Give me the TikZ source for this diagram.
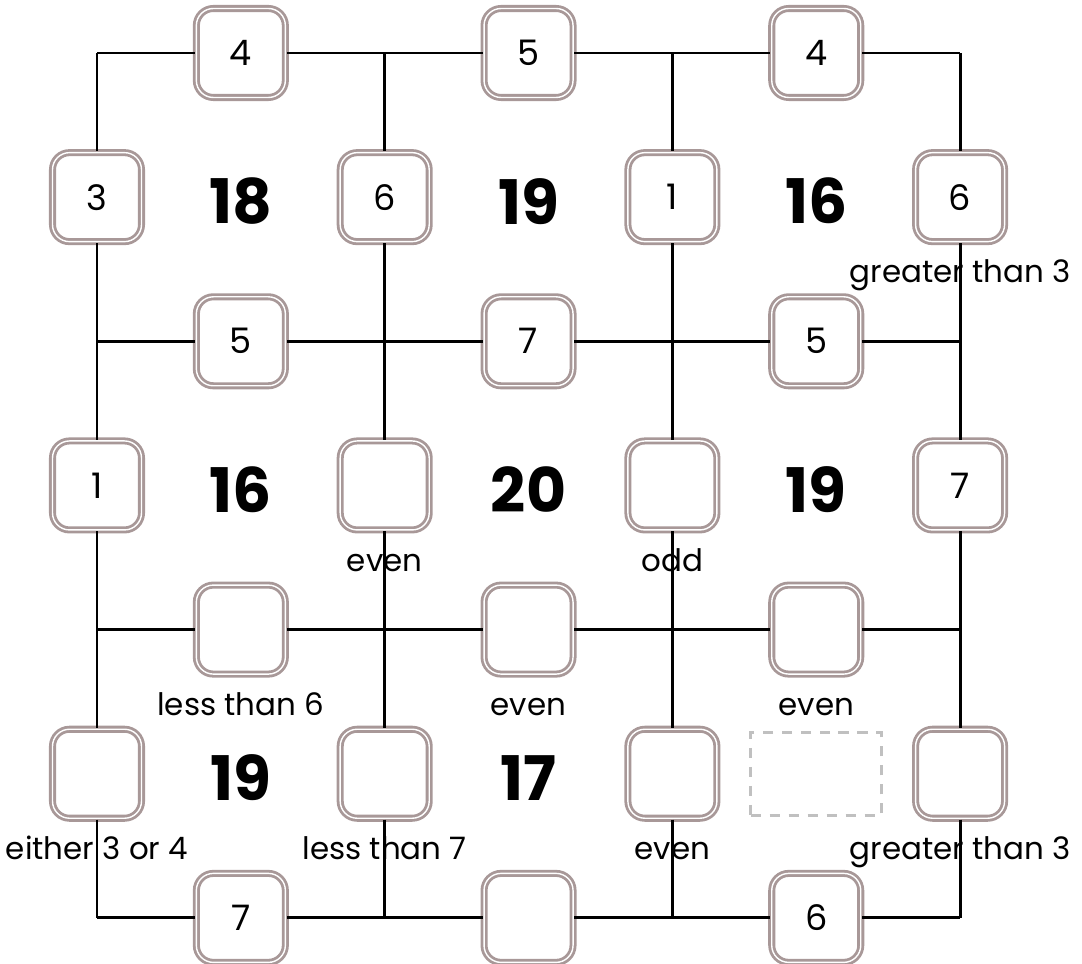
\documentclass[tikz,border=0pt]{standalone}
\usepackage{fontspec}
\setmainfont{Poppins}
\usetikzlibrary{positioning}
\definecolor{boxrim}{RGB}{168,152,152}
\definecolor{ghost}{RGB}{192,192,192}

\begin{document}
\begin{tikzpicture}
        \tikzstyle{gridline}=[line width=0.8pt, black]
        \tikzstyle{slot}=[draw=boxrim, fill=white, double=white, line width=0.8pt, double distance=0.4pt, rounded corners=0.17cm, minimum size=0.89cm, inner sep=0pt, font=\fontsize{10}{12}\selectfont]
        \tikzstyle{sum}=[font=\fontsize{17.5}{20}\selectfont\bfseries]
        \tikzstyle{hint}=[inner sep=0pt, text height=0.74em, text depth=0.26em, font=\fontsize{8.8}{10}\selectfont]
        \tikzstyle{blank}=[draw=ghost, line width=0.8pt, dash pattern=on 3pt off 2.4pt, minimum width=1.31cm, minimum height=0.83cm]

        \useasboundingbox (0,0) rectangle (10.82,9.64);

        % Grid corners
        \foreach \i in {0,...,3}
            \foreach \j in {0,...,3}
                \coordinate (c\i\j) at ({0.97+2.877*\i},{9.11-2.883*\j});

        % Horizontal edges
        \foreach \i/\j/\val in {0/0/4, 1/0/5, 2/0/4, 0/1/5, 1/1/7, 2/1/5, 0/2/{}, 1/2/{}, 2/2/{}, 0/3/7, 1/3/{}, 2/3/6}
            \node[slot] (h\i\j) at ({0.97+2.877*(\i+0.5)},{9.11-2.883*\j}) {\val};

        % Vertical edges
        \foreach \i/\j/\val in {0/0/3, 1/0/6, 2/0/1, 3/0/6, 0/1/1, 1/1/{}, 2/1/{}, 3/1/7, 0/2/{}, 1/2/{}, 2/2/{}, 3/2/{}}
            \node[slot] (v\i\j) at ({0.97+2.877*\i},{9.11-2.883*(\j+0.5)}) {\val};

        % Cell sums
        \foreach \i/\j/\val in {0/0/18, 1/0/19, 2/0/16, 0/1/16, 1/1/20, 2/1/19, 0/2/19, 1/2/17}
            \node[sum] (s\i\j) at ({0.97+2.877*(\i+0.5)},{9.11-2.883*(\j+0.5)-0.04}) {\val};
        \node[blank] (s22) at ({0.97+2.877*2.5},{9.11-2.883*2.5}) {};

        % Hints
        \node[hint, below=0.13cm of v30] (n30) {greater than 3};
        \node[hint, below=0.13cm of v11] (n11) {even};
        \node[hint, below=0.13cm of v21] (n21) {odd};
        \node[hint, below=0.13cm of h02] (m02) {less than 6};
        \node[hint, below=0.13cm of h12] (m12) {even};
        \node[hint, below=0.13cm of h22] (m22) {even};
        \node[hint, below=0.13cm of v02] (n02) {either 3 or 4};
        \node[hint, below=0.13cm of v12] (n12) {less than 7};
        \node[hint, below=0.13cm of v22] (n22) {even};
        \node[hint, below=0.13cm of v32] (n32) {greater than 3};

        % Grid lines
        \foreach \j in {0,...,3}
            \draw[gridline] (c0\j) -- (h0\j) -- (c1\j) -- (h1\j) -- (c2\j) -- (h2\j) -- (c3\j);
        \foreach \i in {0,...,3}
            \draw[gridline] (c\i0) -- (v\i0) -- (c\i1) -- (v\i1) -- (c\i2) -- (v\i2) -- (c\i3);
    \end{tikzpicture}
\end{document}
